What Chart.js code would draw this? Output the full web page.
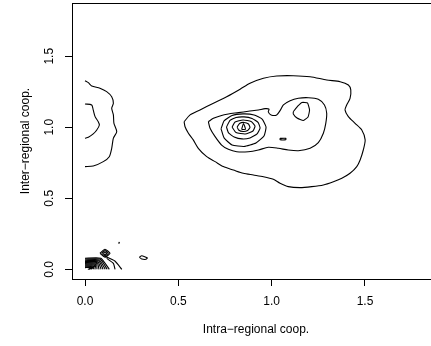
<!DOCTYPE html>
<html>
<head>
<meta charset="utf-8">
<script src="https://cdn.jsdelivr.net/npm/chart.js@4/dist/chart.umd.min.js"></script>
<style>
  html, body { margin: 0; padding: 0; background: #fff; overflow: hidden; }
  #wrap { width: 440px; height: 346px; }
</style>
</head>
<body>
<div id="wrap"><canvas id="c" width="440" height="346"></canvas></div>
<script>
// Axis ticks
const xTicks = [0, 0.5, 1.0, 1.5];
const yTicks = [0, 0.5, 1.0, 1.5];

// Density contours (x = intra-regional, y = inter-regional cooperation)
const outerMain = [
  [0.531,1.039],[0.563,1.087],[0.616,1.122],[0.688,1.169],[0.759,1.215],[0.831,1.268],
  [0.884,1.310],[0.956,1.345],[1.027,1.361],[1.116,1.363],[1.206,1.356],[1.295,1.333],
  [1.367,1.321],[1.411,1.298],[1.424,1.263],[1.420,1.204],[1.402,1.157],[1.393,1.122],
  [1.411,1.075],[1.447,1.028],[1.483,0.981],[1.501,0.911],[1.491,0.840],[1.474,0.770],
  [1.456,0.723],[1.420,0.676],[1.376,0.641],[1.331,0.617],[1.277,0.594],[1.215,0.582],
  [1.152,0.575],[1.089,0.582],[1.045,0.606],[1.009,0.634],[0.956,0.652],[0.902,0.664],
  [0.848,0.676],[0.795,0.699],[0.741,0.723],[0.697,0.758],[0.652,0.793],[0.607,0.852],
  [0.580,0.911],[0.554,0.958],[0.536,1.004],[0.531,1.039]
];
const twoPeaks = [
  [0.661,1.039],[0.688,1.063],[0.723,1.080],[0.768,1.094],[0.822,1.103],[0.875,1.113],
  [0.929,1.122],[0.965,1.131],[0.986,1.127],[0.982,1.108],[0.997,1.087],[1.027,1.087],
  [1.045,1.117],[1.063,1.157],[1.099,1.187],[1.143,1.204],[1.197,1.208],[1.250,1.197],
  [1.283,1.157],[1.295,1.099],[1.290,1.028],[1.277,0.958],[1.250,0.892],[1.206,0.852],
  [1.143,0.835],[1.089,0.840],[1.036,0.852],[0.982,0.859],[0.929,0.840],[0.875,0.828],
  [0.813,0.828],[0.768,0.845],[0.732,0.875],[0.697,0.934],[0.670,0.993],[0.661,1.039]
];
const rightPeak = [
  [1.116,1.110],[1.141,1.150],[1.163,1.175],[1.192,1.171],[1.203,1.122],[1.195,1.073],
  [1.170,1.048],[1.136,1.065],[1.116,1.094],[1.116,1.110]
];
const leftRing1 = [
  [0.729,0.989],[0.745,1.045],[0.788,1.083],[0.847,1.094],[0.906,1.087],[0.949,1.058],
  [0.970,1.002],[0.959,0.939],[0.916,0.890],[0.852,0.865],[0.788,0.875],[0.745,0.925],
  [0.729,0.989]
];
const leftRing2 = [
  [0.758,1.002],[0.777,1.048],[0.809,1.069],[0.852,1.073],[0.895,1.062],[0.927,1.034],
  [0.938,0.995],[0.922,0.953],[0.884,0.925],[0.841,0.918],[0.799,0.932],[0.769,0.960],
  [0.758,1.002]
];
const leftRing3 = [
  [0.788,1.002],[0.804,1.037],[0.847,1.051],[0.890,1.041],[0.911,1.009],[0.900,0.974],
  [0.858,0.953],[0.809,0.963],[0.788,1.002]
];
const leftRing4 = [
  [0.815,1.002],[0.828,1.027],[0.852,1.034],[0.876,1.023],[0.884,0.999],[0.871,0.977],
  [0.847,0.970],[0.823,0.981],[0.815,1.002]
];
const leftPeak = [[0.839,0.985],[0.849,1.027],[0.860,0.985],[0.839,0.985]];
const smallDash = [[1.045,0.922],[1.076,0.922],[1.076,0.913],[1.045,0.913],[1.045,0.922]];

// Contours cut by the x = 0 edge
const edgeOuter = [
  [0,1.328],[0.018,1.314],[0.036,1.291],[0.080,1.275],[0.116,1.251],[0.143,1.215],
  [0.152,1.169],[0.143,1.134],[0.152,1.087],[0.155,1.028],[0.170,0.969],[0.152,0.923],
  [0.143,0.852],[0.130,0.793],[0.098,0.758],[0.044,0.727],[0,0.723]
];
const edgeInner = [
  [0,1.164],[0.036,1.157],[0.044,1.122],[0.054,1.075],[0.071,1.039],[0.077,1.016],
  [0.063,0.981],[0.044,0.953],[0.018,0.930],[0,0.923]
];

// Tight contours around the origin
const cornerFan = [
  [[0,0.078],[0.085,0.078],[0.130,0]],
  [[0,0.072],[0.081,0.072],[0.119,0]],
  [[0,0.066],[0.077,0.066],[0.108,0]],
  [[0,0.060],[0.073,0.060],[0.097,0]],
  [[0,0.054],[0.069,0.054],[0.086,0]],
  [[0,0.048],[0.065,0.048],[0.075,0]],
  [[0,0.042],[0.061,0.042],[0.064,0]],
  [[0,0.036],[0.057,0.036],[0.053,0]],
  [[0,0.030],[0.053,0.030],[0.042,0]],
  [[0,0.024],[0.049,0.024],[0.031,0]],
  [[0,0.018],[0.045,0.018],[0.022,0]],
  [[0,0.012],[0.041,0.012],[0.015,0]]
];
const cornerLong = [[0.100,0.095],[0.160,0.058],[0.197,0]];
const cornerShort = [[0.116,0.077],[0.152,0.042],[0.161,0]];
const diamond1 = [[0.080,0.113],[0.107,0.141],[0.134,0.113],[0.107,0.085],[0.080,0.113]];
const diamond2 = [[0.089,0.113],[0.107,0.132],[0.125,0.113],[0.107,0.094],[0.089,0.113]];
const diamond3 = [[0.098,0.113],[0.107,0.123],[0.116,0.113],[0.107,0.103],[0.098,0.113]];
const speck = [[0.180,0.187],[0.182,0.190],[0.184,0.187],[0.182,0.184],[0.180,0.187]];
const lowBlob = [[0.291,0.0845],[0.304,0.0958],[0.334,0.0796],[0.327,0.0704],[0.304,0.0725],[0.291,0.0845]];

const smoothLines = [outerMain, twoPeaks, edgeOuter, edgeInner];
const sharpLines = [rightPeak, leftRing1, leftRing2, leftRing3, leftRing4, leftPeak, smallDash,
  ...cornerFan, cornerLong, cornerShort, diamond1, diamond2, diamond3, speck, lowBlob];

function lineSet(pts, tension) {
  return {
    data: pts.map(([x, y]) => ({ x, y })),
    showLine: true,
    borderColor: '#000',
    borderWidth: 1.1,
    pointRadius: 0,
    tension: tension,
    fill: false
  };
}

const datasets = [
  ...smoothLines.map(p => lineSet(p, 0.25)),
  ...sharpLines.map(p => lineSet(p, 0.15))
];

// Box line along the top of the plotting region
const frameTop = {
  id: 'frameTop',
  afterDraw(chart) {
    const { ctx, chartArea } = chart;
    ctx.save();
    ctx.strokeStyle = '#000';
    ctx.lineWidth = 1;
    ctx.beginPath();
    ctx.moveTo(chartArea.left, Math.round(chartArea.top) + 0.5);
    ctx.lineTo(chartArea.right, Math.round(chartArea.top) + 0.5);
    ctx.stroke();
    ctx.restore();
  }
};

const fontFamily = '"Liberation Sans", Arial, Helvetica, sans-serif';

new Chart(document.getElementById('c'), {
  type: 'scatter',
  data: { datasets },
  options: {
    responsive: false,
    animation: false,
    events: [],
    layout: { padding: { top: 3, right: 0, left: 0, bottom: 0 } },
    plugins: { legend: { display: false }, tooltip: { enabled: false } },
    scales: {
      x: {
        type: 'linear',
        min: -0.0697,
        max: 1.902,
        afterBuildTicks: s => { s.ticks = xTicks.map(v => ({ value: v })); },
        afterFit: s => { s.height = 67; s.paddingLeft = 0; s.paddingRight = 0; },
        grid: { drawOnChartArea: false, drawTicks: true, tickLength: 7, color: '#000', lineWidth: 1 },
        border: { display: true, color: '#000', width: 1 },
        ticks: {
          color: '#000', padding: 8, maxRotation: 0, autoSkip: false,
          font: { family: fontFamily, size: 12 },
          callback: v => Number(v).toFixed(1)
        },
        title: {
          display: true, text: 'Intra\u2212regional coop.', color: '#000',
          font: { family: fontFamily, size: 12 }, padding: 9
        }
      },
      y: {
        type: 'linear',
        min: -0.0683,
        max: 1.875,
        afterBuildTicks: s => { s.ticks = yTicks.map(v => ({ value: v })); },
        afterFit: s => { s.width = 72; s.paddingTop = 0; s.paddingBottom = 0; },
        grid: { drawOnChartArea: false, drawTicks: true, tickLength: 7, color: '#000', lineWidth: 1 },
        border: { display: true, color: '#000', width: 1 },
        ticks: {
          color: '#000', padding: 7, minRotation: 90, maxRotation: 90, crossAlign: 'center',
          autoSkip: false,
          font: { family: fontFamily, size: 12 },
          callback: v => Number(v).toFixed(1)
        },
        title: {
          display: true, text: 'Inter\u2212regional coop.', color: '#000',
          font: { family: fontFamily, size: 12 }, padding: 18
        }
      }
    }
  },
  plugins: [frameTop]
});
</script>
</body>
</html>
